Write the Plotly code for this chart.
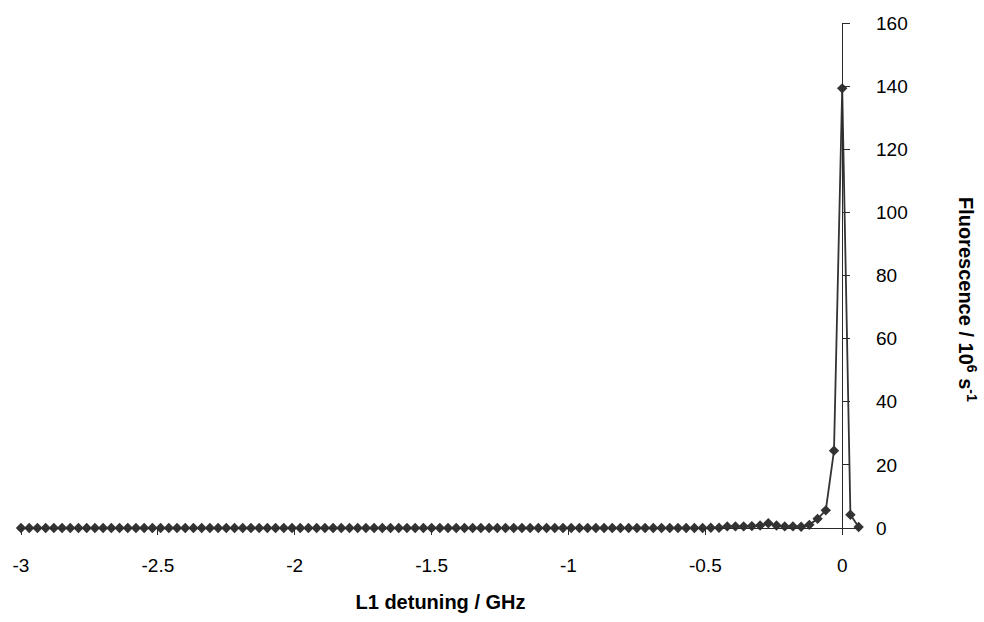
import numpy as np
import plotly.graph_objects as go

# Laser L1 detuning grid (GHz), 0.03 GHz steps from -3 to +0.06
detuning_ghz = np.round(np.linspace(-3.0, 0.06, 103), 2)

# Fluorescence rate in units of 10^6 s^-1 at each detuning
fluorescence = [
    0.0, 0.0, 0.0, 0.0, 0.0, 0.0, 0.0, 0.0, 0.0, 0.0,
    0.0, 0.0, 0.0, 0.0, 0.0, 0.0, 0.0, 0.0, 0.0, 0.0,
    0.0, 0.0, 0.0, 0.0, 0.0, 0.0, 0.0, 0.0, 0.0, 0.0,
    0.0, 0.0, 0.0, 0.0, 0.0, 0.0, 0.0, 0.0, 0.0, 0.0,
    0.0, 0.0, 0.0, 0.0, 0.0, 0.0, 0.0, 0.0, 0.0, 0.0,
    0.0, 0.0, 0.0, 0.0, 0.0, 0.0, 0.0, 0.0, 0.0, 0.0,
    0.0, 0.0, 0.0, 0.0, 0.0, 0.0, 0.0, 0.0, 0.0, 0.0,
    0.0, 0.0, 0.0, 0.0, 0.0, 0.0, 0.0, 0.0, 0.0, 0.0,
    0.0, 0.0, 0.0, 0.0, 0.1, 0.1, 0.5, 0.5, 0.5, 0.6,
    0.8, 1.5, 0.8, 0.5, 0.5, 0.4, 1.0, 2.9, 5.6, 24.5,
    139.3, 4.2, 0.3,
]

x_ticks = [-3, -2.5, -2, -1.5, -1, -0.5, 0]
y_ticks = [0, 20, 40, 60, 80, 100, 120, 140, 160]

ink = "#333333"
axis_color = "#2b2b2b"
font_family = "Liberation Sans, Arial, sans-serif"

fig = go.Figure()
fig.add_trace(
    go.Scatter(
        x=detuning_ghz,
        y=fluorescence,
        mode="lines+markers",
        line=dict(color=ink, width=1.8),
        marker=dict(symbol="diamond", size=8, color=ink),
        cliponaxis=False,
        showlegend=False,
    )
)

fig.update_layout(
    width=984,
    height=622,
    margin=dict(l=21, r=124, t=23, b=92),
    paper_bgcolor="white",
    plot_bgcolor="white",
    font=dict(family=font_family, size=19, color="black"),
    xaxis=dict(
        range=[-3.0, 0.065],
        tickvals=x_ticks,
        ticktext=[f"{v:g}" for v in x_ticks],
        showgrid=False,
        zeroline=False,
        showline=True,
        linecolor=axis_color,
        linewidth=1,
        ticks="outside",
        ticklen=6,
        tickcolor=axis_color,
        ticklabelstandoff=14,
        title=dict(
            text="<b>L1 detuning / GHz</b>",
            font=dict(size=20, family=font_family),
            standoff=20,
        ),
        anchor="y",
    ),
    yaxis=dict(
        range=[0, 160],
        tickvals=y_ticks,
        showgrid=False,
        zeroline=False,
        showline=True,
        linecolor=axis_color,
        linewidth=1,
        ticks="outside",
        ticklen=7,
        tickcolor=axis_color,
        side="right",
        anchor="free",
        position=(0 - (-3.0)) / (0.065 - (-3.0)),
        ticklabelstandoff=22,
    ),
    annotations=[
        dict(
            text="<b>Fluorescence / 10<sup>6</sup> s<sup>-1</sup></b>",
            xref="paper",
            yref="paper",
            x=(967 - 21) / 839,
            y=(530 - 300) / 507,
            showarrow=False,
            textangle=90,
            font=dict(size=20, family=font_family, color="black"),
            xanchor="center",
            yanchor="middle",
        )
    ],
)

fig.write_html("out.html")
